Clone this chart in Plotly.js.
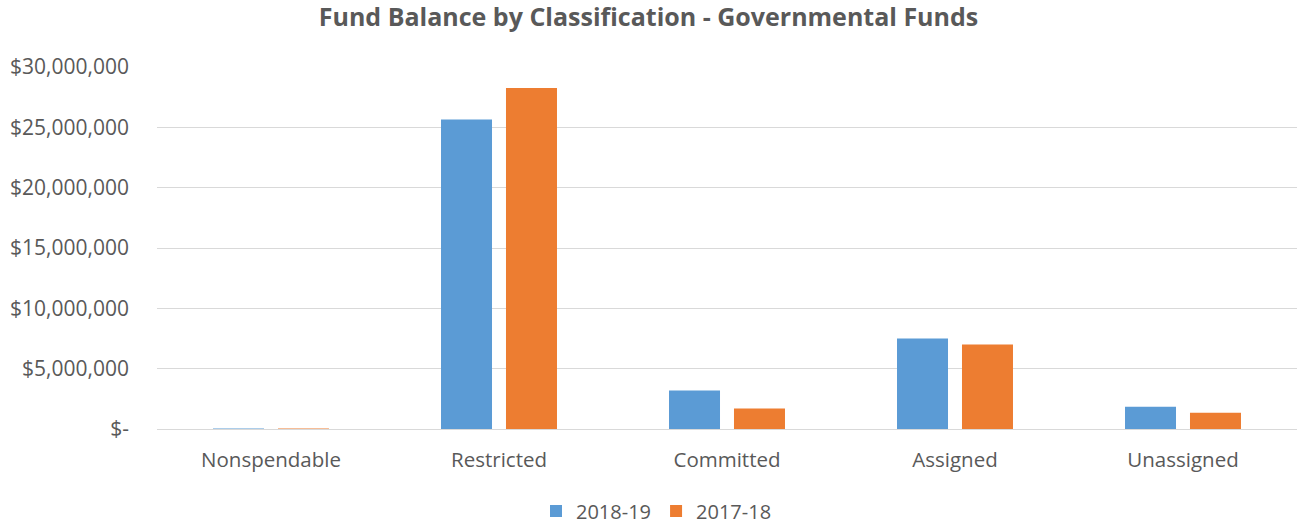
<!DOCTYPE html>
<html>
<head>
<meta charset="utf-8">
<script src="https://cdn.plot.ly/plotly-3.0.1.min.js"></script>
<style>
  html, body { margin: 0; padding: 0; background: #fff; }
  #chart { width: 1297px; height: 524px; }
</style>
</head>
<body>
<div id="chart"></div>
<script>
const categories = ["Nonspendable", "Restricted", "Committed", "Assigned", "Unassigned"];
const seriesNames = ["2018-19", "2017-18"];
const values2018_19 = [50000, 25640000, 3190000, 7500000, 1840000];
const values2017_18 = [45000, 28270000, 1700000, 7000000, 1340000];
const tickVals = [0, 5000000, 10000000, 15000000, 20000000, 25000000, 30000000];
const tickLabels = ["$-", "$5,000,000", "$10,000,000", "$15,000,000", "$20,000,000", "$25,000,000", "$30,000,000"];
const chartTitle = "Fund Balance by Classification - Governmental Funds";

const FONT = "'Open Sans', Lato, sans-serif";
const GRAY = "#595959";

const traces = [
  { type: "bar", name: seriesNames[0], x: categories, y: values2018_19,
    marker: { color: "#5B9BD5", line: { width: 0 } } },
  { type: "bar", name: seriesNames[1], x: categories, y: values2017_18,
    marker: { color: "#ED7D31", line: { width: 0 } } }
];

const layout = {
  width: 1297, height: 524,
  margin: { l: 157, r: 0, t: 67, b: 95 },
  paper_bgcolor: "#fff", plot_bgcolor: "#fff",
  font: { family: FONT, color: GRAY, size: 19 },
  title: { text: "<b>" + chartTitle + "</b>", font: { family: FONT, size: 25, color: GRAY },
           x: 0.5, xanchor: "center", xref: "container", y: 1 - 17/524, yanchor: "middle", yref: "container" },
  barmode: "group", bargap: 0.43, bargroupgap: 0.215,
  xaxis: { type: "category", showgrid: false, showline: false, zeroline: false, ticks: "",
           tickfont: { family: FONT, size: 20.5, color: GRAY }, ticklabelstandoff: 16 },
  yaxis: { range: [0, 30000000], tickvals: tickVals, ticktext: tickLabels, showgrid: true,
           gridcolor: "#D9D9D9", gridwidth: 1, zeroline: true, zerolinecolor: "#D9D9D9", zerolinewidth: 1,
           showline: false, ticks: "", tickfont: { family: FONT, size: 21, color: GRAY }, ticklabelstandoff: 27 },
  legend: { orientation: "h", x: 0.5 + 8/1297, xref: "container", xanchor: "center", y: 13/524, yref: "container", yanchor: "middle",
            font: { family: FONT, size: 20, color: GRAY }, itemwidth: 30, traceorder: "normal" },
  hovermode: false,
  showlegend: true
};

Plotly.newPlot("chart", traces, layout, { displayModeBar: false, staticPlot: true });
</script>
</body>
</html>
